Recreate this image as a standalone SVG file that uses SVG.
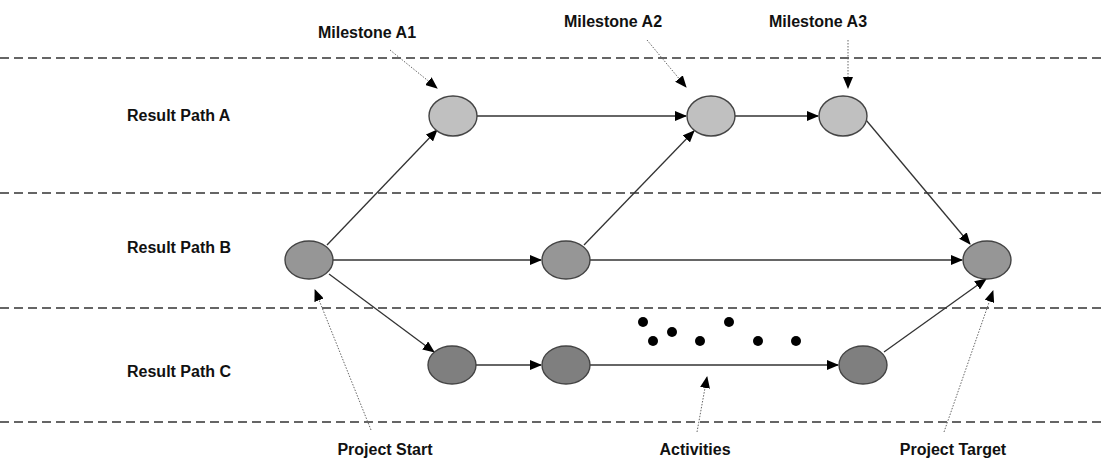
<svg xmlns="http://www.w3.org/2000/svg" width="1103" height="458" viewBox="0 0 1103 458">
<style>
.lane{stroke:#333;stroke-width:1.3;stroke-dasharray:9 5;fill:none}
.lbl{font-family:"Liberation Sans",Arial,sans-serif;font-weight:bold;font-size:16px;fill:#111}
.e{stroke:#333;stroke-width:1.3;fill:none;marker-end:url(#ah)}
.d{stroke:#666;stroke-width:1;stroke-dasharray:1.5 1.5;fill:none;marker-end:url(#ah)}
.n{stroke:#444;stroke-width:1.4}
.a{fill:#c0c0c0}.b{fill:#969696}.c{fill:#7f7f7f}
</style>
<defs>
<marker id="ah" markerWidth="12" markerHeight="10" refX="11" refY="5" orient="auto" markerUnits="userSpaceOnUse">
<path d="M0,0 L12,5 L0,10 Z" fill="#000"/>
</marker>
</defs>
<g id="lanes">
<line class="lane" x1="0" y1="58" x2="1103" y2="58"/>
<line class="lane" x1="0" y1="193" x2="1103" y2="193"/>
<line class="lane" x1="0" y1="308" x2="1103" y2="308"/>
<line class="lane" x1="0" y1="422" x2="1103" y2="422"/>
</g>
<g id="lane-labels">
<text class="lbl" x="127" y="121">Result Path  A</text>
<text class="lbl" x="127" y="253">Result Path  B</text>
<text class="lbl" x="127" y="377">Result Path  C</text>
</g>
<g id="connectors">
<line class="e" x1="327" y1="245" x2="437" y2="130"/>
<line class="e" x1="477" y1="116" x2="686" y2="116"/>
<line class="e" x1="735" y1="116" x2="818" y2="116"/>
<line class="e" x1="866" y1="120" x2="970" y2="244"/>
<line class="e" x1="333" y1="260" x2="541" y2="260"/>
<line class="e" x1="584" y1="245" x2="694" y2="131"/>
<line class="e" x1="590" y1="260" x2="962" y2="260"/>
<line class="e" x1="329" y1="274" x2="434" y2="352"/>
<line class="e" x1="476" y1="365" x2="541" y2="365"/>
<line class="e" x1="590" y1="365" x2="838" y2="365"/>
<line class="e" x1="884" y1="352" x2="986" y2="279"/>
</g>
<g id="annotations">
<line class="d" x1="390" y1="50" x2="437" y2="88"/>
<line class="d" x1="647" y1="40" x2="686" y2="87"/>
<line class="d" x1="848" y1="40" x2="848" y2="88"/>
<line class="d" x1="371" y1="430" x2="315" y2="290"/>
<line class="d" x1="697" y1="432" x2="707" y2="377"/>
<line class="d" x1="944" y1="432" x2="993" y2="291"/>
<text class="lbl" x="367" y="38" text-anchor="middle">Milestone A1</text>
<text class="lbl" x="613" y="27" text-anchor="middle">Milestone A2</text>
<text class="lbl" x="818" y="27" text-anchor="middle">Milestone A3</text>
<text class="lbl" x="385" y="455" text-anchor="middle">Project Start</text>
<text class="lbl" x="695" y="455" text-anchor="middle">Activities</text>
<text class="lbl" x="953" y="455" text-anchor="middle">Project Target</text>
</g>
<g id="node-A1"><ellipse class="n a" cx="453" cy="116" rx="24" ry="20"/></g>
<g id="node-A2"><ellipse class="n a" cx="711" cy="116" rx="24" ry="20"/></g>
<g id="node-A3"><ellipse class="n a" cx="843" cy="116" rx="24" ry="20"/></g>
<g id="node-start"><ellipse class="n b" cx="309" cy="260" rx="24" ry="19"/></g>
<g id="node-B2"><ellipse class="n b" cx="566" cy="260" rx="24" ry="19"/></g>
<g id="node-target"><ellipse class="n b" cx="987" cy="260" rx="24" ry="19"/></g>
<g id="node-C1"><ellipse class="n c" cx="452" cy="365" rx="24" ry="19"/></g>
<g id="node-C2"><ellipse class="n c" cx="566" cy="365" rx="24" ry="19"/></g>
<g id="node-C3"><ellipse class="n c" cx="863" cy="365" rx="24" ry="19"/></g>
<g id="activity-dots" fill="#000">
<circle cx="643" cy="322" r="5"/>
<circle cx="653" cy="341" r="5"/>
<circle cx="672" cy="332" r="5"/>
<circle cx="700" cy="341" r="5"/>
<circle cx="729" cy="322" r="5"/>
<circle cx="758" cy="341" r="5"/>
<circle cx="796" cy="341" r="5"/>
</g>
</svg>
